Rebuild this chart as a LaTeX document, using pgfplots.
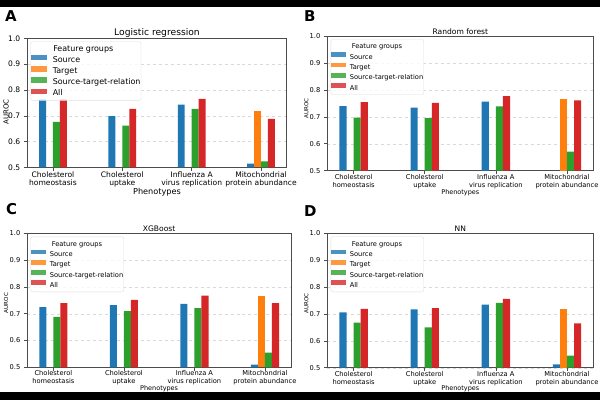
\documentclass[border=0pt]{standalone}
\usepackage{fontspec}
\setmainfont{DejaVu Sans}
\usepackage{pgfplots}
\pgfplotsset{compat=1.18}
\definecolor{tabblue}{HTML}{1F77B4}
\definecolor{taborange}{HTML}{FF7F0E}
\definecolor{tabgreen}{HTML}{2CA02C}
\definecolor{tabred}{HTML}{D62728}
\pgfplotsset{
  panel/.style={
    scale only axis, xmin=-0.37, xmax=3.37, ymin=0.5, ymax=1.0,
    ytick={0.5,0.6,0.7,0.8,0.9,1.0},
    xtick={0,1,2,3},
    xticklabels={{Cholesterol\\homeostasis},{Cholesterol\\uptake},{Influenza A\\virus replication},{Mitochondrial\\protein abundance}},
    xticklabel style={align=center},
    yticklabel style={/pgf/number format/.cd, fixed, fixed zerofill, precision=1, assume math mode=true},
    tick pos=left, tick align=outside, major tick length=3.5bp,
    ymajorgrids, major grid style={dashed, gray!30, line width=0.4bp},
    axis line style={black!70, line width=0.6bp},
    tick style={black!70, line width=0.6bp},
    xlabel={Phenotypes}, ylabel={AUROC},
    legend cell align=left,
    legend style={at={(axis description cs:0,1)}, anchor=north west, xshift=3.3bp, yshift=-3.3bp,
      draw=gray!25, rounded corners=2bp, fill=white, fill opacity=0.8, text opacity=1,
      inner xsep=0bp, inner ysep=1.5bp,
      nodes={inner sep=0.5bp, text height=0.75em, text depth=0.25em}},
    title style={at={(axis description cs:0.5,1)}, anchor=base},
    xlabel style={at={(axis description cs:0.5,0)}, anchor=center},
    ylabel style={anchor=center},
  },
  bigfont/.style={
    tick label style={font=\fontsize{7.6}{8.7}\selectfont},
    xticklabel style={yshift=3bp},
    xlabel style={font=\fontsize{8.2}{9}\selectfont},
    ylabel style={font=\fontsize{7}{8}\selectfont},
    title style={font=\fontsize{9.2}{10}\selectfont, yshift=-2.7bp},
    legend style={font=\fontsize{8}{9}\selectfont, row sep=0.2bp, column sep=5.5bp},
    legend image code/.code={\fill[##1, sharp corners] (0bp,-0.4bp) rectangle (16bp,4.9bp);},
  },
  smallfont/.style={
    tick label style={font=\fontsize{6.7}{7.8}\selectfont},
    xticklabel style={yshift=3.5bp},
    xlabel style={font=\fontsize{6.5}{7.5}\selectfont},
    ylabel style={font=\fontsize{5.6}{6.5}\selectfont},
    title style={font=\fontsize{7.6}{8.5}\selectfont, yshift=-4.1bp},
    legend style={font=\fontsize{6.7}{7.8}\selectfont, row sep=-0.7bp, column sep=3.5bp},
    legend image code/.code={\fill[##1, sharp corners] (0bp,-0.3bp) rectangle (15bp,4.4bp);},
  },
  sb/.style={ybar, bar width=0.1, bar shift=-0.15, fill=tabblue, draw=none},
  st/.style={ybar, bar width=0.1, bar shift=-0.05, fill=taborange, draw=none},
  sg/.style={ybar, bar width=0.1, bar shift=0.05, fill=tabgreen, draw=none},
  sr/.style={ybar, bar width=0.1, bar shift=0.15, fill=tabred, draw=none},
}
\begin{document}
\begin{tikzpicture}
\useasboundingbox (0,0) rectangle (600bp,400bp);
\fill[white] (0,0) rectangle (600bp,400bp);
\fill[black] (0,393bp) rectangle (600bp,400bp);
\fill[black] (0,0) rectangle (600bp,8bp);

% Panel A
\begin{axis}[panel, bigfont, at={(27.3bp,232.5bp)}, anchor=south west,
  width=259.4bp, height=129.2bp, title={Logistic regression},
  xlabel style={yshift=-24.6bp},
  ylabel style={at={(axis description cs:-0.082,0.43)}}]
\addlegendimage{empty legend}\addlegendentry{\hspace*{0.5bp}Feature groups}
\addplot[sb] coordinates {(0,0.764) (1,0.699) (2,0.743) (3,0.515)};
\addlegendentry{Source}
\addplot[st] coordinates {(3,0.720)};
\addlegendentry{Target}
\addplot[sg] coordinates {(0,0.677) (1,0.662) (2,0.727) (3,0.524)};
\addlegendentry{Source-target-relation}
\addplot[sr] coordinates {(0,0.764) (1,0.727) (2,0.766) (3,0.688)};
\addlegendentry{All}
\end{axis}

% Panel B
\begin{axis}[panel, smallfont, at={(327.3bp,229.3bp)}, anchor=south west,
  width=266bp, height=134.7bp, title={Random forest},
  xlabel style={yshift=-22bp},
  ylabel style={at={(axis description cs:-0.079,0.46)}}]
\addlegendimage{empty legend}\addlegendentry{\hspace*{2bp}Feature groups}
\addplot[sb] coordinates {(0,0.740) (1,0.734) (2,0.756)};
\addlegendentry{Source}
\addplot[st] coordinates {(3,0.765)};
\addlegendentry{Target}
\addplot[sg] coordinates {(0,0.697) (1,0.695) (2,0.739) (3,0.571)};
\addlegendentry{Source-target-relation}
\addplot[sr] coordinates {(0,0.755) (1,0.752) (2,0.777) (3,0.761)};
\addlegendentry{All}
\end{axis}

% Panel C
\begin{axis}[panel, smallfont, at={(27.3bp,32.7bp)}, anchor=south west,
  width=263.7bp, height=134bp, title={XGBoost},
  xlabel style={yshift=-21.7bp},
  ylabel style={at={(axis description cs:-0.08,0.48)}}]
\addlegendimage{empty legend}\addlegendentry{\hspace*{2bp}Feature groups}
\addplot[sb] coordinates {(0,0.725) (1,0.732) (2,0.737) (3,0.510)};
\addlegendentry{Source}
\addplot[st] coordinates {(3,0.765)};
\addlegendentry{Target}
\addplot[sg] coordinates {(0,0.688) (1,0.710) (2,0.721) (3,0.555)};
\addlegendentry{Source-target-relation}
\addplot[sr] coordinates {(0,0.739) (1,0.752) (2,0.767) (3,0.739)};
\addlegendentry{All}
\end{axis}

% Panel D
\begin{axis}[panel, smallfont, at={(327.3bp,32.3bp)}, anchor=south west,
  width=266bp, height=134.4bp, title={NN},
  xlabel style={yshift=-21.5bp},
  ylabel style={at={(axis description cs:-0.079,0.48)}}]
\addlegendimage{empty legend}\addlegendentry{\hspace*{2bp}Feature groups}
\addplot[sb] coordinates {(0,0.706) (1,0.717) (2,0.735) (3,0.512)};
\addlegendentry{Source}
\addplot[st] coordinates {(3,0.720)};
\addlegendentry{Target}
\addplot[sg] coordinates {(0,0.668) (1,0.650) (2,0.741) (3,0.545)};
\addlegendentry{Source-target-relation}
\addplot[sr] coordinates {(0,0.719) (1,0.722) (2,0.756) (3,0.665)};
\addlegendentry{All}
\end{axis}

\node[font=\fontsize{15}{15}\selectfont\bfseries, anchor=base west, inner sep=0pt] at (5bp,378bp) {A};
\node[font=\fontsize{15}{15}\selectfont\bfseries, anchor=base west, inner sep=0pt] at (304bp,378.3bp) {B};
\node[font=\fontsize{15}{15}\selectfont\bfseries, anchor=base west, inner sep=0pt] at (6bp,185bp) {C};
\node[font=\fontsize{15}{15}\selectfont\bfseries, anchor=base west, inner sep=0pt] at (304bp,183bp) {D};
\end{tikzpicture}
\end{document}
